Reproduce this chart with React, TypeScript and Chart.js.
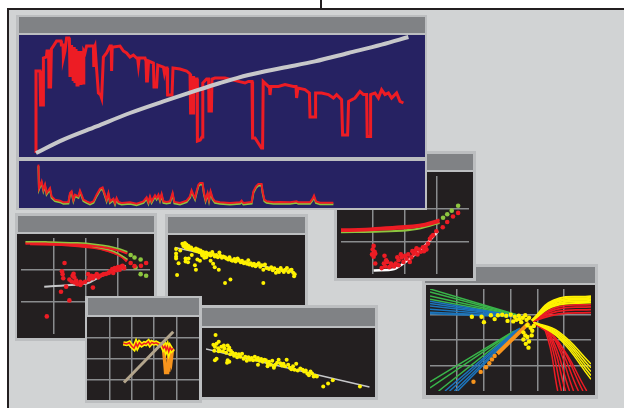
import React, { useEffect, useRef } from 'react';
import { Chart, registerables } from 'chart.js';

Chart.register(...registerables);

// ---------- palette ----------
const PAGE = '#d1d3d4';
const FRAME = '#bcbec0';
const TITLE = '#808285';
const NAVY = '#262262';
const DARK = '#231f20';
const GRID = '#8a8c8e';
const RED = '#ed1c24';
const LIME = '#8dc63f';
const LEAF = '#39b54a';
const BLUE = '#1c75bc';
const YELLOW = '#fff200';
const ORANGE = '#f7941d';
const PALE = '#c7c8ca';
const TAN = '#b3a58c';

type P = [number, number];

// ---------- spectrum window (wavelength nm, reflectance) ----------
const spectrumReflectance: P[] = [
  [485, 0.02], [485, 0.43], [505, 0.43], [508, 0.26], [520, 0.26], [522, 0.495], [537, 0.5], [540, 0.53],
  [548, 0.53], [550, 0.35], [558, 0.35], [562, 0.54], [572, 0.555], [588, 0.58], [610, 0.58], [612, 0.56],
  [620, 0.56], [622, 0.495], [630, 0.53], [638, 0.595], [650, 0.595], [652, 0.59], [655, 0.4], [660, 0.56],
  [663, 0.4], [668, 0.55], [671, 0.38], [676, 0.55], [680, 0.37], [685, 0.54], [690, 0.36], [695, 0.53],
  [700, 0.37], [705, 0.53], [710, 0.36], [715, 0.53], [720, 0.37], [724, 0.53], [730, 0.52], [738, 0.555],
  [772, 0.555], [774, 0.45], [778, 0.55], [780, 0.555], [788, 0.44], [797, 0.32], [808, 0.31], [813, 0.295],
  [822, 0.5], [838, 0.52], [855, 0.555], [861, 0.555], [863, 0.43], [866, 0.55], [872, 0.55], [905, 0.555],
  [922, 0.53], [938, 0.52], [955, 0.5], [972, 0.51], [988, 0.495], [993, 0.495], [997, 0.46], [1001, 0.495],
  [1030, 0.495], [1035, 0.48], [1038, 0.38], [1042, 0.38], [1048, 0.48], [1072, 0.47], [1075, 0.35], [1088, 0.35],
  [1094, 0.46], [1122, 0.45], [1127, 0.42], [1132, 0.445], [1140, 0.445], [1143, 0.31], [1165, 0.31], [1170, 0.445],
  [1205, 0.44], [1238, 0.43], [1255, 0.415], [1258, 0.22], [1270, 0.22], [1273, 0.405], [1280, 0.32], [1285, 0.39],
  [1290, 0.39], [1292, 0.08], [1306, 0.085], [1315, 0.1], [1319, 0.37], [1338, 0.39], [1348, 0.39], [1350, 0.23],
  [1362, 0.23], [1365, 0.39], [1380, 0.395], [1430, 0.395], [1463, 0.387], [1497, 0.378], [1530, 0.37], [1547, 0.378],
  [1565, 0.378], [1568, 0.095], [1580, 0.095], [1612, 0.045], [1618, 0.045], [1621, 0.378], [1647, 0.353], [1652, 0.353],
  [1655, 0.31], [1660, 0.353], [1697, 0.353], [1730, 0.362], [1772, 0.353], [1785, 0.353], [1788, 0.295], [1795, 0.345],
  [1830, 0.337], [1852, 0.32], [1855, 0.2], [1880, 0.2], [1883, 0.32], [1913, 0.32], [1947, 0.312], [1972, 0.295],
  [1988, 0.312], [2013, 0.287], [2018, 0.11], [2043, 0.11], [2048, 0.278], [2080, 0.295], [2105, 0.328], [2122, 0.312],
  [2138, 0.312], [2141, 0.103], [2155, 0.103], [2158, 0.312], [2180, 0.32], [2197, 0.295], [2213, 0.337], [2230, 0.312],
  [2247, 0.32], [2263, 0.295], [2288, 0.32], [2305, 0.278], [2322, 0.27],
];

const spectrumTrend: P[] = [
  [485, 0.02], [622, 0.087], [788, 0.153], [955, 0.22], [1122, 0.278], [1288, 0.333], [1405, 0.37],
  [1547, 0.41], [1713, 0.445], [1880, 0.478], [2047, 0.52], [2213, 0.562], [2347, 0.6],
];

const noiseSignal: P[] = [
  [497, 0.867], [500, 0.4], [513, 0.533], [522, 0.367], [530, 0.467], [538, 0.3], [555, 0.4], [563, 0.233],
  [580, 0.167], [605, 0.147], [622, 0.113], [647, 0.12], [655, 0.3], [663, 0.333], [672, 0.167], [680, 0.267],
  [697, 0.233], [705, 0.347], [713, 0.267], [722, 0.167], [738, 0.133], [755, 0.1], [772, 0.133], [788, 0.267],
  [805, 0.387], [818, 0.413], [830, 0.267], [838, 0.167], [847, 0.3], [855, 0.133], [872, 0.187], [880, 0.1],
  [888, 0.2], [897, 0.12], [913, 0.1], [955, 0.113], [988, 0.087], [1022, 0.133], [1038, 0.213], [1047, 0.12],
  [1055, 0.233], [1063, 0.133], [1080, 0.253], [1088, 0.2], [1097, 0.267], [1105, 0.167], [1113, 0.28], [1122, 0.133],
  [1138, 0.12], [1155, 0.133], [1168, 0.3], [1177, 0.12], [1205, 0.1], [1238, 0.147], [1255, 0.233], [1263, 0.353],
  [1272, 0.267], [1280, 0.2], [1288, 0.333], [1297, 0.467], [1305, 0.5], [1318, 0.5], [1325, 0.3], [1333, 0.167],
  [1343, 0.3], [1350, 0.167], [1358, 0.333], [1368, 0.2], [1380, 0.133], [1405, 0.113], [1455, 0.1], [1505, 0.113],
  [1513, 0.147], [1522, 0.1], [1563, 0.12], [1572, 0.333], [1585, 0.433], [1597, 0.48], [1613, 0.48], [1618, 0.333],
  [1627, 0.167], [1638, 0.133], [1672, 0.113], [1705, 0.12], [1755, 0.113], [1788, 0.133], [1797, 0.113], [1855, 0.113],
  [1868, 0.187], [1875, 0.247], [1885, 0.133], [1905, 0.107], [1972, 0.107],
];

// ---------- lower-left window (grid units) ----------
const leftCurveGreen: P[] = [[0.14, 2.88], [0.77, 2.88], [1.74, 2.85], [2.33, 2.8], [2.72, 2.74], [3.0, 2.67], [3.3, 2.57]];
const leftCurveRedA: P[] = [[0.14, 2.85], [0.77, 2.85], [1.74, 2.81], [2.33, 2.75], [2.72, 2.69], [3.0, 2.62], [3.3, 2.52]];
const leftCurveRedB: P[] = [[0.14, 2.83], [0.77, 2.83], [1.74, 2.77], [2.33, 2.7], [2.72, 2.6], [3.0, 2.49], [3.3, 2.3]];
const leftCurveRedC: P[] = [[0.28, 2.81], [1.26, 2.79], [2.23, 2.7], [2.72, 2.59], [3.1, 2.44], [3.28, 2.27]];
const leftCurveGreenB: P[] = [[2.2, 2.74], [2.72, 2.63], [3.0, 2.52], [3.3, 2.33]];
const leftTrend: P[] = [[0.72, 1.48], [2.04, 1.58], [2.42, 1.77], [2.72, 1.91], [3.25, 2.13]];
const leftRedDots: P[] = [
  [1.35, 2.22], [1.27, 1.96], [1.29, 1.87], [1.31, 1.74], [1.6, 1.82], [1.63, 1.88], [1.65, 1.77], [1.5, 1.7],
  [1.57, 1.64], [1.66, 1.61], [1.71, 1.67], [1.74, 1.56], [1.84, 1.63], [1.89, 1.59], [1.99, 1.63], [1.84, 1.53],
  [2.08, 1.87], [2.13, 1.77], [2.18, 1.82], [2.11, 1.7], [2.23, 1.74], [2.28, 1.81], [2.35, 1.87], [2.4, 1.77],
  [2.44, 1.82], [2.52, 1.85], [2.57, 1.87], [2.64, 1.88], [2.72, 1.91], [2.76, 1.96], [2.83, 2.03], [2.86, 1.91],
  [2.91, 2.06], [2.96, 1.99], [3.01, 2.09], [3.06, 2.01], [3.11, 2.11], [3.15, 2.13], [3.2, 2.06], [1.24, 1.32],
  [1.4, 1.48], [1.5, 1.05], [0.8, 0.55], [2.23, 1.45], [3.4, 2.22], [3.52, 2.12], [3.72, 2.13], [3.88, 2.22],
];
const leftGreenDots: P[] = [[3.4, 2.47], [3.52, 2.39], [3.71, 2.33], [3.55, 2.08], [3.71, 1.87], [3.88, 1.82]];

// ---------- upper-middle window ----------
const midFit: P[] = [[0.45, 4.6], [10.0, 2.475]];
const midDots: P[] = [
  [1.05, 4.93], [1.25, 4.98], [1.38, 4.85], [1.13, 4.73], [1.3, 4.6], [1.45, 4.53], [1.55, 4.73], [1.65, 4.48],
  [1.75, 4.6], [1.88, 4.43], [2.0, 4.35], [2.13, 4.53], [2.2, 4.28], [2.3, 4.43], [2.38, 4.23], [2.5, 4.35],
  [2.58, 4.1], [2.7, 4.23], [2.8, 4.03], [2.95, 4.18], [3.05, 3.98], [3.2, 4.1], [3.3, 3.93], [3.43, 4.23],
  [3.5, 4.03], [3.63, 3.85], [3.75, 3.98], [3.88, 3.78], [4.0, 4.18], [4.05, 3.93], [4.2, 3.73], [4.3, 3.85],
  [4.45, 3.78], [4.55, 3.68], [4.7, 3.6], [4.8, 3.78], [4.95, 3.53], [5.05, 3.48], [5.2, 3.63], [5.3, 3.43],
  [5.45, 3.68], [5.55, 3.53], [5.7, 3.35], [5.8, 3.48], [5.95, 3.28], [6.05, 3.35], [6.2, 3.23], [6.3, 3.53],
  [6.38, 3.18], [6.5, 3.28], [6.63, 3.08], [6.75, 3.23], [6.88, 3.03], [7.0, 3.15], [7.13, 3.28], [7.25, 2.98],
  [7.38, 3.1], [7.5, 2.73], [7.63, 3.18], [7.75, 2.88], [7.95, 2.78], [8.13, 2.93], [8.25, 2.68], [8.38, 2.85],
  [8.5, 2.48], [8.63, 2.73], [8.75, 2.53], [8.88, 2.88], [9.0, 2.68], [9.13, 2.53], [9.25, 2.73], [9.38, 2.88],
  [9.5, 2.53], [9.63, 2.68], [9.75, 2.73], [9.88, 2.48], [9.95, 2.18], [10.0, 2.35],
  [0.55, 4.48], [0.55, 4.1], [0.55, 3.85], [0.55, 3.68], [0.75, 3.28], [0.63, 2.28], [1.3, 3.68], [1.3, 3.43],
  [1.55, 3.68], [2.05, 3.1], [2.13, 2.73], [2.25, 3.6], [2.45, 3.48], [2.8, 3.73], [3.3, 3.48], [3.5, 3.23],
  [3.63, 2.93], [3.95, 2.73], [4.45, 1.6], [4.88, 1.9], [7.5, 1.6], [1.5, 3.35], [1.8, 3.98], [2.95, 3.78],
  [2.63, 3.93], [0.88, 4.35],
];

// ---------- right red window (grid units) ----------
const rightCurveTop: P[] = [[-0.01, 1.36], [0.78, 1.38], [1.76, 1.45], [2.44, 1.5], [3.08, 1.66]];
const rightCurveMid: P[] = [[-0.01, 1.32], [0.78, 1.34], [1.76, 1.39], [2.44, 1.45], [3.08, 1.6]];
const rightCurveGreen: P[] = [[-0.01, 1.28], [1.27, 1.3], [2.25, 1.36], [3.08, 1.56]];
const rightTrend: P[] = [[1.02, 0.11], [1.66, 0.15], [2.05, 0.4], [2.54, 0.79], [3.03, 1.31]];
const rightRedDots: P[] = [
  [1.02, 0.86], [0.99, 0.75], [1.05, 0.68], [0.97, 0.6], [1.07, 0.62], [1.02, 0.53], [1.07, 0.32], [1.36, 0.56],
  [1.41, 0.42], [1.34, 0.32], [1.44, 0.37], [1.38, 0.23], [1.27, 0.18], [1.61, 0.27], [1.66, 0.23], [1.71, 0.32],
  [1.76, 0.51], [1.8, 0.42], [1.87, 0.6], [1.9, 0.51], [1.95, 0.37], [2.0, 0.56], [2.05, 0.47], [2.1, 0.6],
  [2.15, 0.37], [2.2, 0.51], [2.23, 0.7], [2.27, 0.62], [2.32, 0.7], [2.36, 0.79], [2.39, 0.6], [2.44, 0.75],
  [2.49, 0.68], [2.56, 0.82], [2.59, 0.7], [2.64, 0.84], [2.67, 0.75], [2.72, 0.93], [2.78, 1.08], [2.83, 1.15],
  [2.88, 1.19], [2.98, 1.31], [3.18, 1.43], [3.32, 1.59], [3.5, 1.76], [3.66, 1.87], [1.51, 0.21], [1.8, 0.27],
  [1.56, 0.32],
];
const rightGreenDots: P[] = [[3.19, 1.72], [3.32, 1.83], [3.46, 1.94], [3.66, 2.09]];

// ---------- small orange window (grid units) ----------
const smallDiagonal: P[] = [[1.65, 0.84], [3.85, 3.29]];
const smallTrace: P[] = [
  [1.62, 2.73], [1.77, 2.7], [1.89, 2.76], [1.99, 2.6], [2.1, 2.49], [2.19, 2.73], [2.25, 2.57], [2.34, 2.76],
  [2.44, 2.65], [2.55, 2.73], [2.63, 2.7], [2.74, 2.81], [2.81, 2.68], [2.89, 2.78], [2.99, 2.73], [3.08, 2.76],
  [3.19, 2.7], [3.26, 2.65], [3.33, 2.68], [3.41, 2.49], [3.48, 2.6], [3.53, 2.41], [3.59, 2.57], [3.65, 2.33],
  [3.71, 2.54], [3.78, 2.41], [3.85, 2.49],
];
const smallDrip: P[] = [
  [3.41, 2.54], [3.47, 1.85], [3.51, 1.32], [3.6, 1.32], [3.62, 1.61], [3.65, 1.37], [3.69, 2.09], [3.75, 1.85],
  [3.8, 2.3], [3.84, 2.44],
];

// ---------- lower-middle window ----------
const lowFit: P[] = [[0.55, 3.7], [13.38, 0.5]];
const lowDots: P[] = [
  [1.3, 4.88], [1.13, 4.05], [1.25, 3.88], [1.38, 4.13], [1.5, 3.75], [1.55, 4.3], [1.2, 3.55], [1.63, 3.55],
  [1.75, 3.88], [1.88, 3.5], [2.0, 3.75], [2.13, 3.38], [2.25, 4.0], [2.3, 3.63], [2.38, 3.8], [2.45, 3.25],
  [2.5, 3.55], [2.63, 3.38], [2.75, 3.13], [2.88, 3.3], [3.0, 3.0], [3.13, 3.25], [3.25, 3.05], [3.38, 3.3],
  [3.5, 2.88], [3.63, 3.05], [3.75, 2.7], [3.88, 3.0], [4.0, 2.8], [4.13, 2.95], [4.25, 2.75], [4.38, 3.05],
  [4.5, 2.8], [4.63, 2.95], [4.75, 2.7], [4.88, 2.85], [5.0, 2.63], [5.13, 2.8], [5.25, 2.75], [5.38, 2.5],
  [5.5, 2.63], [5.63, 2.38], [5.75, 2.7], [5.88, 2.25], [6.0, 2.38], [6.13, 2.55], [6.25, 2.8], [6.38, 2.5],
  [6.5, 2.3], [6.63, 2.45], [6.75, 2.25], [6.88, 2.8], [7.0, 2.38], [7.13, 2.13], [7.25, 2.0], [7.38, 2.25],
  [7.5, 1.95], [7.63, 2.45], [7.75, 1.88], [7.95, 2.05], [8.13, 1.95], [8.25, 1.8], [8.38, 1.9], [8.5, 1.63],
  [8.63, 1.5], [8.75, 1.8], [8.88, 1.63], [9.0, 1.38], [9.13, 1.45], [9.25, 1.38], [9.75, 0.55], [10.13, 0.8],
  [10.5, 1.08], [12.63, 0.55], [1.25, 2.75], [1.38, 2.88], [2.2, 2.55], [2.38, 2.63], [2.25, 2.75], [5.38, 2.25],
  [5.88, 2.13], [4.63, 2.38], [1.55, 3.5], [1.95, 4.0],
];

// ---------- fan window (grid units) ----------
const fanGreenUpper: P[][] = [
  [[0, 4.0], [3.2, 3.0]], [[0, 3.88], [3.3, 2.96]], [[0, 3.73], [3.4, 2.93]], [[0, 3.6], [3.5, 2.9]],
];
const fanBlueUpper: P[][] = [
  [[0, 3.52], [2.9, 3.0]], [[0, 3.43], [3.0, 2.98]], [[0, 3.33], [3.1, 2.97]], [[0, 3.21], [3.2, 2.95]],
  [[0, 3.09], [3.3, 2.93]], [[0, 3.03], [3.4, 2.9]],
];
const fanGreenLower: P[][] = [
  [[0, 0.36], [3.05, 2.3]], [[0, 0.12], [3.1, 2.33]], [[0.32, 0], [3.15, 2.36]],
];
const fanBlueLower: P[][] = [
  [[0.56, 0], [3.2, 2.38]], [[0.73, 0], [3.25, 2.41]], [[0.91, 0], [3.3, 2.44]], [[1.03, 0], [3.35, 2.47]],
];
const fanYellowUpper: P[][] = [
  [[3.8, 2.76], [4.6, 3.55], [6, 3.72]], [[3.8, 2.76], [4.6, 3.5], [6, 3.66]], [[3.8, 2.76], [4.6, 3.45], [6, 3.6]],
  [[3.8, 2.76], [4.65, 3.4], [6, 3.54]], [[3.8, 2.76], [4.65, 3.34], [6, 3.47]],
];
const fanRedUpper: P[][] = [
  [[3.85, 2.74], [4.7, 3.28], [6, 3.39]], [[3.85, 2.74], [4.7, 3.2], [6, 3.3]],
  [[3.85, 2.74], [4.75, 3.12], [6, 3.19]], [[3.85, 2.74], [4.8, 3.02], [6, 3.07]],
];
const fanYellowLower: P[][] = [
  [[3.85, 2.7], [4.8, 2.32], [6, 1.06]], [[3.85, 2.7], [4.8, 2.26], [6, 0.91]], [[3.85, 2.7], [4.8, 2.2], [6, 0.76]],
  [[3.85, 2.7], [4.8, 2.14], [6, 0.61]], [[3.85, 2.7], [4.8, 2.08], [6, 0.46]],
];
const fanRedLower: P[][] = [
  [[3.85, 2.68], [4.3, 2.35], [4.76, 0]], [[3.85, 2.68], [4.35, 2.33], [4.9, 0]], [[3.85, 2.68], [4.4, 2.3], [5.05, 0]],
  [[3.85, 2.68], [4.45, 2.27], [5.2, 0]], [[3.85, 2.68], [4.55, 2.2], [5.35, 0]], [[3.85, 2.68], [4.6, 2.15], [5.53, 0]],
  [[3.85, 2.68], [4.7, 2.05], [5.7, 0]], [[3.85, 2.68], [4.76, 1.95], [5.84, 0]],
];
const fanOrangeLine: P[] = [[2.51, 1.46], [3.69, 2.67]];
const fanOrangeDots: P[] = [[1.62, 0.36], [1.89, 0.75], [2.09, 0.93], [2.21, 1.09], [2.31, 1.24], [2.41, 1.37]];
const fanYellowDots: P[] = [
  [1.56, 2.91], [1.92, 2.91], [2.01, 2.7], [2.27, 2.97], [2.41, 2.82], [2.53, 2.97], [2.84, 2.95], [2.89, 2.75],
  [3.01, 2.99], [3.16, 2.91], [3.22, 2.79], [3.31, 2.95], [3.4, 2.7], [3.46, 2.87], [3.55, 2.97], [3.6, 2.79],
  [3.69, 2.87], [3.48, 2.3], [3.55, 2.18], [3.63, 2.12], [3.48, 2.02], [3.69, 1.94], [3.57, 1.85], [3.67, 1.7],
  [3.79, 2.18], [3.81, 2.36], [3.87, 2.55], [3.75, 2.48], [3.63, 2.58], [3.1, 2.73], [3.34, 2.82], [2.69, 2.99],
];

// ---------- chart helpers ----------
const pts = (a: P[]) => a.map(([x, y]) => ({ x, y }));

// draws a dataset nudged down by `shiftY` pixels, used for the thin under-strokes
const shiftPlugin = {
  id: 'shiftStroke',
  beforeDatasetDraw(chart: any, args: any) {
    const ds = chart.data.datasets[args.index];
    if (ds.shiftY) {
      chart.ctx.save();
      chart.ctx.translate(0, ds.shiftY);
    }
  },
  afterDatasetDraw(chart: any, args: any) {
    const ds = chart.data.datasets[args.index];
    if (ds.shiftY) chart.ctx.restore();
  },
};

const line = (data: P[], color: string, width: number, extra: any = {}) => ({
  data: pts(data),
  showLine: true,
  borderColor: color,
  borderWidth: width,
  pointRadius: 0,
  tension: 0,
  ...extra,
});

const dots = (data: P[], color: string, radius: number) => ({
  data: pts(data),
  showLine: false,
  pointRadius: radius,
  pointBackgroundColor: color,
  pointBorderWidth: 0,
  borderColor: color,
});

const axis = (min: number, max: number, grid: boolean) => ({
  type: 'linear',
  min,
  max,
  ticks: { display: false, stepSize: 1 },
  border: { display: false },
  grid: {
    display: grid,
    drawTicks: false,
    lineWidth: 1.5,
    color: (c: any) =>
      c.index === 0 || c.index === c.scale.ticks.length - 1 ? 'rgba(0,0,0,0)' : GRID,
  },
});

const makeConfig = (datasets: any[], xr: P, yr: P, grid: boolean) => ({
  type: 'scatter',
  data: { datasets },
  plugins: [shiftPlugin],
  options: {
    animation: false,
    responsive: false,
    devicePixelRatio: 1,
    events: [],
    layout: { padding: 0 },
    plugins: { legend: { display: false }, tooltip: { enabled: false } },
    scales: { x: axis(xr[0], xr[1], grid), y: axis(yr[0], yr[1], grid) },
  },
});

// ---------- components ----------
type PlotProps = { x: number; y: number; w: number; h: number; bg: string; config: () => any };

function Plot({ x, y, w, h, bg, config }: PlotProps) {
  const ref = useRef<HTMLCanvasElement>(null);
  useEffect(() => {
    const chart = new Chart(ref.current as HTMLCanvasElement, config());
    return () => chart.destroy();
  }, []);
  return (
    <div style={{ position: 'absolute', left: x, top: y, width: w, height: h, background: bg }}>
      <canvas ref={ref} width={w} height={h} style={{ display: 'block', width: w, height: h }} />
    </div>
  );
}

const box = (x: number, y: number, w: number, h: number, bg: string) => (
  <div style={{ position: 'absolute', left: x, top: y, width: w, height: h, background: bg }} />
);

type WinProps = { frame: number[]; title: number[]; children?: React.ReactNode };

function Win({ frame, title, children }: WinProps) {
  return (
    <>
      {box(frame[0], frame[1], frame[2], frame[3], FRAME)}
      {box(title[0], title[1], title[2], title[3], TITLE)}
      {children}
    </>
  );
}

export default function App() {
  const fanLines = (sets: P[][], color: string, width: number, curved: boolean) =>
    sets.map((s) => line(s, color, width, curved ? { tension: 0.45 } : {}));

  return (
    <div
      style={{
        position: 'fixed', left: 0, top: 0, width: 624, height: 408,
        background: '#ffffff', overflow: 'hidden',
      }}
    >
      {box(8, 9, 616, 399, PAGE)}
      {box(7, 8, 617, 2, DARK)}
      {box(7, 8, 2, 400, DARK)}
      {box(320, 0, 2, 9, DARK)}

      {/* fan window */}
      <Win frame={[422, 264, 176, 135]} title={[425, 267, 170, 16]}>
        <Plot
          x={426} y={285} w={169} h={110} bg={DARK}
          config={() =>
            makeConfig(
              [
                dots(fanYellowDots, YELLOW, 2.2),
                dots(fanOrangeDots, ORANGE, 2.2),
                line(fanOrangeLine, ORANGE, 4),
                ...fanLines(fanYellowUpper, YELLOW, 2, true),
                ...fanLines(fanRedUpper, RED, 1.8, true),
                ...fanLines(fanYellowLower, YELLOW, 1.5, true),
                ...fanLines(fanRedLower, RED, 1.5, true),
                ...fanLines(fanBlueUpper, BLUE, 1.5, false),
                ...fanLines(fanGreenUpper, LEAF, 1.5, false),
                ...fanLines(fanBlueLower, BLUE, 1.5, false),
                ...fanLines(fanGreenLower, LEAF, 1.5, false),
              ],
              [0, 6], [0, 4], true,
            )
          }
        />
      </Win>

      {/* right red window */}
      <Win frame={[334, 151, 142, 130]} title={[337, 154, 136, 16]}>
        <Plot
          x={337} y={172} w={136} h={106} bg={DARK}
          config={() =>
            makeConfig(
              [
                dots(rightRedDots, RED, 2.3),
                dots(rightGreenDots, LIME, 2.3),
                line(rightTrend, '#ffffff', 2.5, { tension: 0.3 }),
                line(rightCurveTop, RED, 2.5, { tension: 0.4 }),
                line(rightCurveMid, RED, 2.5, { tension: 0.4 }),
                line(rightCurveGreen, LIME, 2, { tension: 0.4 }),
              ],
              [0, 4], [0, 3], true,
            )
          }
        />
      </Win>

      {/* spectrum window */}
      <Win frame={[16, 15, 411, 195]} title={[19, 17, 406, 16]}>
        <Plot
          x={19} y={35} w={406} h={122} bg={NAVY}
          config={() =>
            makeConfig(
              [
                line(spectrumTrend, PALE, 4, { tension: 0.4, cubicInterpolationMode: 'monotone' }),
                line(spectrumReflectance, RED, 3),
              ],
              [400, 2430], [0, 0.61], false,
            )
          }
        />
        <Plot
          x={19} y={161} w={406} h={47} bg={NAVY}
          config={() =>
            makeConfig(
              [
                line(noiseSignal, RED, 2),
                line(noiseSignal, LIME, 2, { shiftY: 1.5 }),
              ],
              [400, 2430], [0, 0.94], false,
            )
          }
        />
      </Win>

      {/* lower-left window */}
      <Win frame={[15, 213, 142, 128]} title={[18, 216, 136, 16]}>
        <Plot
          x={17} y={234} w={137} h={104} bg={DARK}
          config={() =>
            makeConfig(
              [
                dots(leftRedDots, RED, 2.3),
                dots(leftGreenDots, LIME, 2.3),
                line(leftTrend, PALE, 2, { tension: 0.2 }),
                line(leftCurveGreen, LIME, 1.5, { tension: 0.4 }),
                line(leftCurveRedA, RED, 2.5, { tension: 0.4 }),
                line(leftCurveGreenB, LIME, 1.5, { tension: 0.4 }),
                line(leftCurveRedB, RED, 2.5, { tension: 0.4 }),
                line(leftCurveRedC, RED, 2.5, { tension: 0.4 }),
              ],
              [0, 4], [0, 3], true,
            )
          }
        />
      </Win>

      {/* upper-middle window */}
      <Win frame={[165, 214, 143, 96]} title={[168, 217, 137, 16]}>
        <Plot
          x={168} y={235} w={137} h={71} bg={DARK}
          config={() =>
            makeConfig(
              [dots(midDots, YELLOW, 2), line(midFit, PALE, 1.5)],
              [0.225, 10.5], [0, 5.325], false,
            )
          }
        />
      </Win>

      {/* lower-middle window */}
      <Win frame={[200, 305, 178, 95]} title={[202, 308, 173, 18]}>
        <Plot
          x={202} y={328} w={173} h={69} bg={DARK}
          config={() =>
            makeConfig(
              [dots(lowDots, YELLOW, 2), line(lowFit, PALE, 1.5)],
              [0.55, 13.5], [0, 5.125], false,
            )
          }
        />
      </Win>

      {/* small orange window */}
      <Win frame={[85, 296, 117, 107]} title={[88, 298, 111, 17]}>
        <Plot
          x={87} y={317} w={112} h={83} bg={DARK}
          config={() =>
            makeConfig(
              [
                line(smallDiagonal, TAN, 3),
                line(smallTrace, RED, 1.5),
                line(smallTrace, YELLOW, 4.5),
                line(smallDrip, ORANGE, 3.5),
              ],
              [0, 5], [0, 4], true,
            )
          }
        />
      </Win>
    </div>
  );
}
